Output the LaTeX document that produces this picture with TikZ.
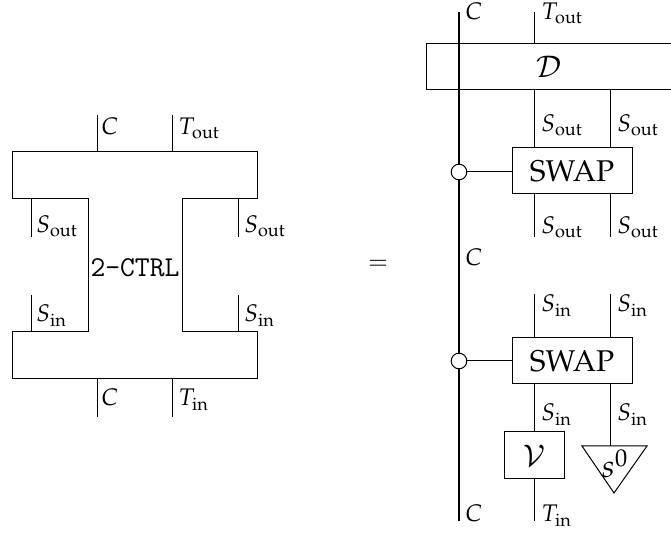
\documentclass[tikz,border=0pt]{standalone}
\usepackage[T1]{fontenc}
\usepackage{mathpazo}
\newcommand{\ctrlfont}{\fontencoding{OT1}\fontfamily{cmtt}\fontseries{m}\fontshape{n}\fontsize{15}{18}\selectfont}
\begin{document}
\tikzset{
  wire/.style={line width=0.5pt},
  mainwire/.style={line width=0.65pt},
  lbl/.style={anchor=base west, inner sep=0pt, font=\fontsize{12}{14}\selectfont},
  box/.style={draw, line width=0.5pt, inner sep=0pt, font=\fontsize{15}{18}\selectfont},
  ctl/.style={circle, draw, fill=white, line width=0.5pt, inner sep=0pt, minimum size=7.8pt},
  big/.style={inner sep=0pt, font=\fontsize{16}{19}\selectfont},
  ttlbl/.style={inner sep=0pt, font=\ctrlfont}
}
\begin{tikzpicture}[x=0.5pt,y=-0.5pt]
\useasboundingbox (0,0) rectangle (671,534);

% ---------- left: 2-CTRL ----------
\draw[wire] (12,152) -- (257,152) -- (257,199) -- (182,199) -- (182,332) -- (257,332)
  -- (257,379) -- (12,379) -- (12,332) -- (88,332) -- (88,199) -- (12,199) -- cycle;
\node[ttlbl] (ctrl) at (135,268) {2-CTRL};

\coordinate (lct) at (97,115);   \coordinate (lcb) at (97,152);
\coordinate (ltt) at (172,115);  \coordinate (ltb) at (172,152);
\draw[wire] (lct) -- (lcb);
\draw[wire] (ltt) -- (ltb);
\node[lbl] (lC1) at (101,135) {$C$};
\node[lbl] (lT1) at (178,135) {$T_{\mathrm{out}}$};

\coordinate (lso1a) at (31,199);  \coordinate (lso1b) at (31,237);
\coordinate (lso2a) at (238,199); \coordinate (lso2b) at (238,237);
\draw[wire] (lso1a) -- (lso1b);
\draw[wire] (lso2a) -- (lso2b);
\node[lbl] (lS1) at (36,233) {$S_{\mathrm{out}}$};
\node[lbl] (lS2) at (244,233) {$S_{\mathrm{out}}$};

\coordinate (lsi1a) at (31,295);  \coordinate (lsi1b) at (31,332);
\coordinate (lsi2a) at (238,295); \coordinate (lsi2b) at (238,332);
\draw[wire] (lsi1a) -- (lsi1b);
\draw[wire] (lsi2a) -- (lsi2b);
\node[lbl] (lS3) at (36,322) {$S_{\mathrm{in}}$};
\node[lbl] (lS4) at (244,322) {$S_{\mathrm{in}}$};

\coordinate (lcc) at (97,379);  \coordinate (lcd) at (97,417);
\coordinate (ltc) at (172,379); \coordinate (ltd) at (172,417);
\draw[wire] (lcc) -- (lcd);
\draw[wire] (ltc) -- (ltd);
\node[lbl] (lC2) at (101,406) {$C$};
\node[lbl] (lT2) at (178,406) {$T_{\mathrm{in}}$};

% ---------- equals ----------
\node[inner sep=0pt, font=\fontsize{12}{14}\selectfont] (eq) at (378,265) {$=$};

% ---------- right ----------
\node[box, minimum width=123pt, minimum height=23pt] (D) at (549,67) {$\mathcal{D}$};
\node[box, minimum width=60pt, minimum height=23pt] (sw1) at (572,171) {SWAP};
\node[box, minimum width=60pt, minimum height=23pt] (sw2) at (572,361) {SWAP};
\node[box, minimum width=30pt, minimum height=23.5pt] (V) at (534,455.5) {$\mathcal{V}$};

\coordinate (ct) at (459,12);
\coordinate (cb) at (459,521);
\draw[mainwire] (ct) -- (cb);
\node[ctl] (c1) at (459,172) {};
\node[ctl] (c2) at (459,361) {};
\draw[wire] (c1.east) -- (c1.east -| sw1.west);
\draw[wire] (c2.east) -- (c2.east -| sw2.west);

\coordinate (tt) at (534,12);
\draw[wire] (tt) -- (tt |- D.north);
\node[lbl] (rC1) at (465,20) {$C$};
\node[lbl] (rT1) at (541,20) {$T_{\mathrm{out}}$};

\coordinate (wa) at (534,0);
\coordinate (wb) at (610,0);
\draw[wire] (wa |- D.south) -- (wa |- sw1.north);
\draw[wire] (wb |- D.south) -- (wb |- sw1.north);
\node[lbl] (rS1) at (541,132) {$S_{\mathrm{out}}$};
\node[lbl] (rS2) at (617,132) {$S_{\mathrm{out}}$};

\coordinate (so1) at (534,237);
\coordinate (so2) at (610,237);
\draw[wire] (so1 |- sw1.south) -- (so1);
\draw[wire] (so2 |- sw1.south) -- (so2);
\node[lbl] (rS3) at (541,234) {$S_{\mathrm{out}}$};
\node[lbl] (rS4) at (617,234) {$S_{\mathrm{out}}$};

\node[lbl] (rC2) at (465,266) {$C$};

\coordinate (si1) at (534,294);
\coordinate (si2) at (610,294);
\draw[wire] (si1) -- (si1 |- sw2.north);
\draw[wire] (si2) -- (si2 |- sw2.north);
\node[lbl] (rS5) at (541,312) {$S_{\mathrm{in}}$};
\node[lbl] (rS6) at (617,312) {$S_{\mathrm{in}}$};

% triangle s^0
\coordinate (trL) at (582,446);
\coordinate (trR) at (647,446);
\coordinate (trB) at (614,493);
\draw[wire] (trL) -- (trR) -- (trB) -- cycle;
\node[big] (s0) at (615,464) {$s^0$};

\draw[wire] (si1 |- sw2.south) -- (si1 |- V.north);
\draw[wire] (si2 |- sw2.south) -- (si2 |- trL);
\node[lbl] (rS7) at (541,421) {$S_{\mathrm{in}}$};
\node[lbl] (rS8) at (617,421) {$S_{\mathrm{in}}$};

\coordinate (tb) at (534,521);
\draw[wire] (tb |- V.south) -- (tb);
\node[lbl] (rC3) at (465,522) {$C$};
\node[lbl] (rT3) at (541,522) {$T_{\mathrm{in}}$};
\end{tikzpicture}
\end{document}
